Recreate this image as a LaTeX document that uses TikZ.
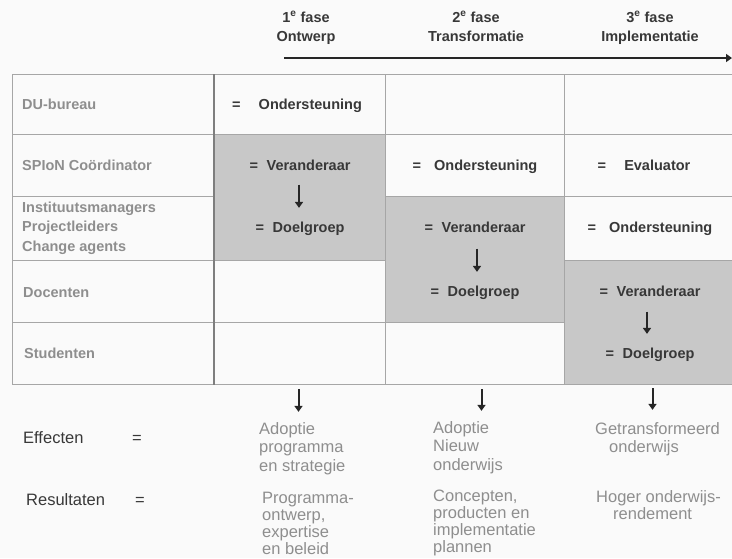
\documentclass[tikz,border=0pt]{standalone}
\usepackage{fontspec}
\setmainfont{Liberation Sans}
\usetikzlibrary{arrows.meta}

\definecolor{bg}{HTML}{FAFAFA}
\definecolor{gridline}{HTML}{A6A6A6}
\definecolor{darkrule}{HTML}{7E7E7E}
\definecolor{shade}{HTML}{C8C8C8}
\definecolor{ink}{HTML}{383838}
\definecolor{soft}{HTML}{8E8E8E}
\definecolor{arrowink}{HTML}{262626}

\newcommand{\boldtext}{\fontsize{14.5}{19.5}\selectfont\bfseries}
\newcommand{\plaintext}{\fontsize{16.5}{18.5}\selectfont}

\begin{document}
\begin{tikzpicture}[x=1pt, y=-1pt,
  cell/.style 2 args={draw=gridline, line width=1pt, anchor=north west,
    inner sep=0pt, minimum width=#1, minimum height=#2},
  shaded/.style={fill=shade},
  hdr/.style={font=\boldtext, text=ink, inner sep=0pt, anchor=base},
  lab/.style={font=\boldtext, text=soft, inner sep=0pt, anchor=base west},
  ctx/.style={font=\boldtext, text=ink, inner sep=0pt, anchor=base},
  low/.style={font=\plaintext, text=soft, inner sep=0pt, anchor=base west},
  key/.style={font=\plaintext, text=ink, inner sep=0pt, anchor=base west},
  arr/.style={draw=arrowink, line width=2pt, -{Triangle[length=6pt,width=8pt]}},
]

% canvas
\fill[bg] (0,0) rectangle (732,558);
\useasboundingbox (0,0) rectangle (732,558);

% phase headings and time axis
\node[hdr] (h1) at (306,22.2) {\begin{tabular}[t]{@{}c@{}}1\textsuperscript{e} fase\\Ontwerp\end{tabular}};
\node[hdr] (h2) at (476,22.2) {\begin{tabular}[t]{@{}c@{}}2\textsuperscript{e} fase\\Transformatie\end{tabular}};
\node[hdr] (h3) at (650,22.2) {\begin{tabular}[t]{@{}c@{}}3\textsuperscript{e} fase\\Implementatie\end{tabular}};
\coordinate (axis0) at (284,58);
\coordinate (axis1) at (732,58);
\draw[arr, line width=2.2pt] (axis0) -- (axis1);

% role column
\node[cell={202}{60}] (l1) at (12,74) {};
\node[cell={202}{62}] (l2) at (12,134) {};
\node[cell={202}{64}] (l3) at (12,196) {};
\node[cell={202}{62}] (l4) at (12,260) {};
\node[cell={202}{62}] (l5) at (12,322) {};

% phase 1 column
\node[cell={171}{60}] (a1) at (214,74) {};
\node[cell={171}{126}, shaded] (a23) at (214,134) {};
\node[cell={171}{62}] (a4) at (214,260) {};
\node[cell={171}{62}] (a5) at (214,322) {};

% phase 2 column
\node[cell={179}{60}] (b1) at (385,74) {};
\node[cell={179}{62}] (b2) at (385,134) {};
\node[cell={179}{126}, shaded] (b34) at (385,196) {};
\node[cell={179}{62}] (b5) at (385,322) {};

% phase 3 column
\node[cell={169}{60}] (c1) at (564,74) {};
\node[cell={169}{62}] (c2) at (564,134) {};
\node[cell={169}{64}] (c3) at (564,196) {};
\node[cell={169}{124}, shaded] (c45) at (564,260) {};

% heavier rule between roles and phases
\draw[darkrule, line width=1.6pt] (a1.north west) -- (a5.south west);

% role names
\node[lab] (r1) at (22,109.2) {DU-bureau};
\node[lab] (r2) at (22,170.2) {SPIoN Coördinator};
\node[lab] (r3) at (22,212.2) {\begin{tabular}[t]{@{}l@{}}Instituutsmanagers\\Projectleiders\\Change agents\end{tabular}};
\node[lab] (r4) at (23,297.2) {Docenten};
\node[lab] (r5) at (24,358.2) {Studenten};

% phase 1 roles
\node[ctx] (a1t) at (297,109.2) {=\hspace{1.25em}Ondersteuning};
\node[ctx] (av) at (300,170.2) {=\hspace{0.6em}Veranderaar};
\node[ctx] (ad) at (300,232.2) {=\hspace{0.6em}Doelgroep};

% phase 2 roles
\node[ctx] (b2t) at (475,170.2) {=\hspace{0.9em}Ondersteuning};
\node[ctx] (bv) at (475,232.2) {=\hspace{0.6em}Veranderaar};
\node[ctx] (bd) at (475,296.2) {=\hspace{0.6em}Doelgroep};

% phase 3 roles
\node[ctx] (c2t) at (644,170.2) {=\hspace{1.25em}Evaluator};
\node[ctx] (c3t) at (650,232.2) {=\hspace{0.9em}Ondersteuning};
\node[ctx] (cv) at (650,296.2) {=\hspace{0.6em}Veranderaar};
\node[ctx] (cd) at (650,358.2) {=\hspace{0.6em}Doelgroep};

% change agent -> target group
\draw[arr, shorten <=14pt, shorten >=13.6pt] ([xshift=-1pt]av.south) -- ([xshift=-1pt]av.south |- ad.north);
\draw[arr, shorten <=16pt, shorten >=13.6pt] ([xshift=2pt]bv.south) -- ([xshift=2pt]bv.south |- bd.north);
\draw[arr, shorten <=15pt, shorten >=13.6pt] ([xshift=-3pt]cv.south) -- ([xshift=-3pt]cv.south |- cd.north);

% effects and results
\node[key] (eff) at (23,443) {Effecten};
\node[key, anchor=base] (effeq) at (137,443) {=};
\node[key] (res) at (26,505) {Resultaten};
\node[key, anchor=base] (reseq) at (140,505) {=};

\node[low] (e1) at (259,434) {\begin{tabular}[t]{@{}l@{}}Adoptie\\programma\\en strategie\end{tabular}};
\node[low] (e2) at (433,433) {\begin{tabular}[t]{@{}l@{}}Adoptie\\Nieuw\\onderwijs\end{tabular}};
\node[low] (e3) at (595,434) {\begin{tabular}[t]{@{}l@{}}Getransformeerd\\\hspace{14pt}onderwijs\end{tabular}};

\node[low, font=\fontsize{16.5}{17}\selectfont] (p1) at (262,503) {\begin{tabular}[t]{@{}l@{}}Programma-\\ontwerp,\\expertise\\en beleid\end{tabular}};
\node[low, font=\fontsize{16.5}{17.3}\selectfont] (p2) at (433,501) {\begin{tabular}[t]{@{}l@{}}Concepten,\\producten en\\implementatie\\plannen\end{tabular}};
\node[low, font=\fontsize{16.5}{17}\selectfont] (p3) at (596,502) {\begin{tabular}[t]{@{}l@{}}Hoger onderwijs-\\\hspace{17pt}rendement\end{tabular}};

% phases lead to effects
\draw[arr, shorten <=4pt, shorten >=9pt] ([xshift=-1.5pt]a5.south) -- ([xshift=-1.5pt]a5.south |- e1.north);
\draw[arr, shorten <=4pt, shorten >=9pt] ([xshift=6.5pt]b5.south) -- ([xshift=6.5pt]b5.south |- e2.north);
\draw[arr, shorten <=3pt, shorten >=11pt] ([xshift=3.5pt]c45.south) -- ([xshift=3.5pt]c45.south |- e3.north);

\end{tikzpicture}
\end{document}
